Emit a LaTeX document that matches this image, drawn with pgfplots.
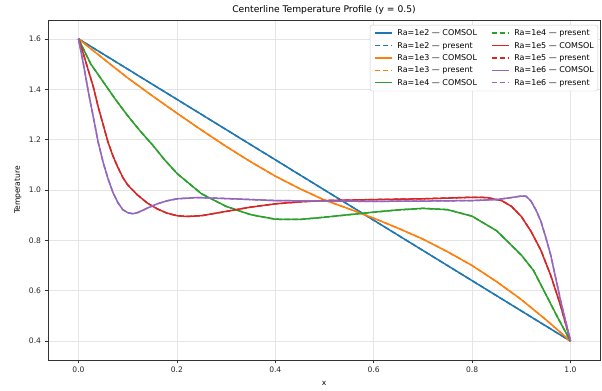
\documentclass[border=0pt]{standalone}
\usepackage{fontspec}
\setmainfont{DejaVu Sans}
\usepackage{pgfplots}
\usepackage{pgfplotstable}
\pgfplotsset{compat=1.18}
\definecolor{cA}{HTML}{1F77B4}
\definecolor{cB}{HTML}{FF7F0E}
\definecolor{cC}{HTML}{2CA02C}
\definecolor{cD}{HTML}{D62728}
\definecolor{cE}{HTML}{9467BD}
\pgfplotsset{
  sol/.style={draw=#1, line width=1.5pt, solid, no markers},
  das/.style={draw=#1, line width=1.5pt, dash pattern=on 5.5pt off 2.5pt, no markers},
}
\newcommand{\lgs}[2]{\tikz[baseline=-0.6ex]\draw[#1, line width=1.5pt, #2] (0,0) -- (17pt,0);\hspace{5pt}}

\pgfplotstableread{
x c p
0.0 1.6 1.6
0.5 1.0 1.0
1.0 0.4 0.4
}\raA

\pgfplotstableread{
x c p
0.00 1.600 1.600
0.05 1.522 1.522
0.10 1.445 1.445
0.15 1.374 1.374
0.20 1.305 1.305
0.25 1.238 1.238
0.30 1.173 1.173
0.35 1.112 1.112
0.40 1.055 1.055
0.45 1.005 1.005
0.50 0.960 0.960
0.55 0.925 0.925
0.60 0.888 0.888
0.65 0.848 0.848
0.70 0.805 0.805
0.75 0.755 0.755
0.80 0.700 0.700
0.85 0.636 0.636
0.90 0.565 0.565
0.95 0.485 0.485
1.00 0.400 0.400
}\raB

\pgfplotstableread{
x c p
0.000 1.600 1.600
0.025 1.500 1.500
0.050 1.430 1.430
0.075 1.360 1.360
0.100 1.295 1.295
0.125 1.235 1.235
0.150 1.180 1.180
0.175 1.120 1.120
0.200 1.066 1.066
0.250 0.985 0.985
0.300 0.935 0.935
0.350 0.902 0.902
0.400 0.884 0.884
0.450 0.883 0.883
0.500 0.892 0.892
0.550 0.902 0.902
0.600 0.912 0.912
0.650 0.921 0.921
0.700 0.927 0.927
0.750 0.922 0.922
0.800 0.896 0.896
0.850 0.838 0.838
0.900 0.742 0.742
0.925 0.680 0.680
0.950 0.585 0.585
0.975 0.490 0.490
1.000 0.400 0.400
}\raC

\pgfplotstableread{
x c p
0.00 1.600 1.600
0.01 1.540 1.540
0.02 1.475 1.475
0.03 1.410 1.410
0.04 1.330 1.330
0.05 1.260 1.260
0.06 1.190 1.190
0.07 1.135 1.135
0.08 1.090 1.090
0.09 1.050 1.050
0.10 1.020 1.020
0.12 0.980 0.980
0.14 0.948 0.948
0.16 0.925 0.925
0.18 0.908 0.908
0.20 0.898 0.898
0.22 0.895 0.895
0.25 0.898 0.898
0.30 0.915 0.915
0.35 0.932 0.932
0.40 0.945 0.945
0.45 0.953 0.953
0.50 0.958 0.958
0.60 0.962 0.962
0.70 0.965 0.965
0.75 0.968 0.968
0.80 0.971 0.971
0.83 0.970 0.970
0.86 0.958 0.958
0.88 0.935 0.935
0.90 0.895 0.895
0.92 0.835 0.835
0.94 0.760 0.760
0.96 0.660 0.660
0.98 0.540 0.540
1.00 0.400 0.400
}\raD

\pgfplotstableread{
x c p
0.00 1.600 1.600
0.01 1.500 1.500
0.02 1.390 1.390
0.03 1.290 1.290
0.04 1.190 1.190
0.05 1.110 1.110
0.06 1.045 1.045
0.07 0.990 0.990
0.08 0.950 0.950
0.09 0.922 0.922
0.10 0.910 0.910
0.11 0.906 0.906
0.12 0.910 0.910
0.14 0.928 0.928
0.16 0.945 0.945
0.18 0.957 0.957
0.20 0.965 0.965
0.24 0.970 0.970
0.30 0.966 0.966
0.40 0.958 0.958
0.50 0.956 0.956
0.60 0.955 0.955
0.70 0.956 0.956
0.80 0.958 0.958
0.85 0.962 0.962
0.88 0.970 0.970
0.90 0.976 0.976
0.91 0.975 0.975
0.92 0.955 0.955
0.93 0.920 0.920
0.94 0.875 0.875
0.95 0.810 0.810
0.96 0.740 0.740
0.97 0.650 0.650
0.98 0.560 0.560
0.99 0.480 0.480
1.00 0.400 0.400
}\raE

\begin{document}
\begin{tikzpicture}
\useasboundingbox (-48bp,-31bp) rectangle (554bp,360bp);
\begin{axis}[
  at={(0,0)}, anchor=south west,
  scale only axis, width=552bp, height=340bp,
  xmin=-0.062, xmax=1.06, ymin=0.325, ymax=1.675,
  xtick={0,0.2,0.4,0.6,0.8,1.0},
  ytick={0.4,0.6,0.8,1.0,1.2,1.4,1.6},
  xticklabel style={/pgf/number format/.cd, fixed, fixed zerofill, precision=1},
  yticklabel style={/pgf/number format/.cd, fixed, fixed zerofill, precision=1},
  /pgf/number format/assume math mode=true,
  tick label style={font=\fontsize{7.6}{9}\selectfont, text=black!85},
  grid=major, major grid style={draw=black!10, line width=0.6pt},
  tick align=outside, tick pos=left, major tick length=3.5pt,
  tick style={black!80, line width=0.6pt},
  axis line style={line width=0.6pt, black!80},
  title={Centerline Temperature Profile (y = 0.5)},
  every axis title shift=0pt,
  title style={font=\fontsize{9.2}{11}\selectfont, at={(axis description cs:0.5,1.0294)}, anchor=center},
  xlabel={x}, ylabel={Temperature},
  xlabel style={font=\fontsize{7.6}{9}\selectfont, at={(axis description cs:0.5,-0.0676)}, anchor=center},
  ylabel style={font=\fontsize{7.6}{9}\selectfont, at={(axis description cs:-0.0543,0.5)}, anchor=center},
]
\addplot[sol=cA] table[x=x,y=c]{\raA};
\addplot[das=cA] table[x=x,y=p]{\raA};
\addplot[sol=cB] table[x=x,y=c]{\raB};
\addplot[das=cB] table[x=x,y=p]{\raB};
\addplot[sol=cC] table[x=x,y=c]{\raC};
\addplot[das=cC] table[x=x,y=p]{\raC};
\addplot[sol=cD] table[x=x,y=c]{\raD};
\addplot[das=cD] table[x=x,y=p]{\raD};
\addplot[sol=cE] table[x=x,y=c]{\raE};
\addplot[das=cE] table[x=x,y=p]{\raE};
\end{axis}
\node[anchor=north east, draw=black!20, fill=white, rounded corners=2pt,
      inner xsep=4pt, inner ysep=2pt, font=\fontsize{8}{10}\selectfont] at (550bp,335bp) {%
  \renewcommand{\arraystretch}{1.24}%
  \begin{tabular}{@{}l@{\hspace{14pt}}l@{}}
  \lgs{cA}{solid}Ra=1e2 — COMSOL & \lgs{cC}{dash pattern=on 5.5pt off 2.5pt}Ra=1e4 — present\\
  \lgs{cA}{dash pattern=on 5.5pt off 2.5pt}Ra=1e2 — present & \lgs{cD}{solid}Ra=1e5 — COMSOL\\
  \lgs{cB}{solid}Ra=1e3 — COMSOL & \lgs{cD}{dash pattern=on 5.5pt off 2.5pt}Ra=1e5 — present\\
  \lgs{cB}{dash pattern=on 5.5pt off 2.5pt}Ra=1e3 — present & \lgs{cE}{solid}Ra=1e6 — COMSOL\\
  \lgs{cC}{solid}Ra=1e4 — COMSOL & \lgs{cE}{dash pattern=on 5.5pt off 2.5pt}Ra=1e6 — present
  \end{tabular}};
\end{tikzpicture}
\end{document}
